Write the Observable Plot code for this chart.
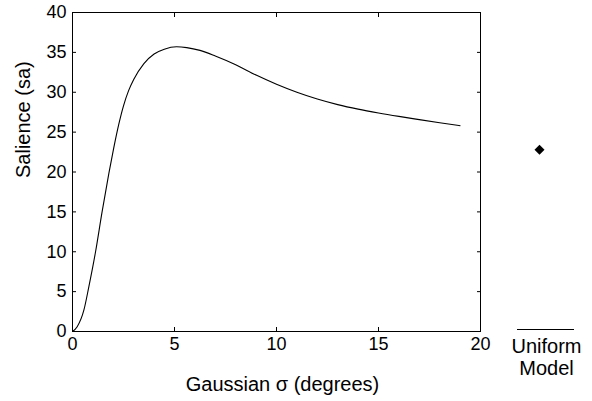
<!DOCTYPE html>
<html>
<head>
<meta charset="utf-8">
<script src="https://cdn.jsdelivr.net/npm/d3@7"></script>
<script src="https://cdn.jsdelivr.net/npm/@observablehq/plot@0.6"></script>
<style>
  html, body { margin: 0; padding: 0; background: white; }
  #wrap { position: relative; width: 592px; height: 401px; }
  #wrap svg { position: absolute; left: 0; top: 0; }
</style>
</head>
<body>
<div id="wrap"></div>
<script>
// Data
const sigma = [0, 0.23, 0.56, 0.8, 1.13, 1.45, 1.78, 2.02, 2.27, 2.5, 2.75, 3.0, 3.5, 4.0, 4.5, 5.1, 5.6, 6.25, 7.0, 8.0, 9.0, 10.0, 11.0, 12.0, 13.0, 14.0, 15.0, 16.0, 17.0, 18.0, 19.0];
const salience = [0, 0.6, 2.7, 5.6, 10, 15, 19.8, 23.0, 26.0, 28.3, 30.2, 31.6, 33.6, 34.8, 35.4, 35.7, 35.6, 35.25, 34.55, 33.45, 32.15, 31.0, 30.0, 29.15, 28.45, 27.88, 27.4, 26.97, 26.57, 26.18, 25.8];
const uniformLabel = ["Uniform\nModel"];
const uniformValue = [22.8];
const xTicks = [0, 5, 10, 15, 20];
const yTicks = [0, 5, 10, 15, 20, 25, 30, 35, 40];
const xLabel = "Gaussian σ (degrees)";
const yLabel = "Salience (sa)";

const curve = sigma.map((s, i) => ({sigma: s, salience: salience[i]}));
const font = "'Liberation Sans', Arial, Helvetica, sans-serif";

const main = Plot.plot({
  width: 592,
  height: 401,
  marginLeft: 72,
  marginRight: 112,
  marginTop: 12,
  marginBottom: 70,
  style: {fontFamily: font, fontSize: "18px", color: "black", background: "transparent"},
  x: {domain: [0, 20]},
  y: {domain: [0, 40]},
  marks: [
    Plot.frame({stroke: "black", strokeWidth: 1}),
    Plot.axisX({anchor: "bottom", ticks: xTicks, tickSize: -4, tickPadding: 10, label: null, fontSize: 18, tickFormat: d => String(d)}),
    Plot.axisX({anchor: "top", ticks: xTicks, tickSize: -4, label: null, tickFormat: () => ""}),
    Plot.axisY({anchor: "left", ticks: yTicks, tickSize: -4, tickPadding: 10, label: null, fontSize: 18, tickFormat: d => String(d)}),
    Plot.axisY({anchor: "right", ticks: yTicks, tickSize: -4, label: null, tickFormat: () => ""}),
    Plot.line(curve, {x: "sigma", y: "salience", curve: "monotone-x", stroke: "black", strokeWidth: 1.1}),
    Plot.text([xLabel], {frameAnchor: "bottom", text: d => d, dx: 6, dy: 59, lineAnchor: "bottom", fontSize: 20}),
    Plot.text([yLabel], {frameAnchor: "left", text: d => d, rotate: -90, dx: -49, dy: 6, lineAnchor: "middle", fontSize: 20})
  ]
});

const side = Plot.plot({
  width: 592,
  height: 401,
  marginLeft: 517,
  marginRight: 18,
  marginTop: 12,
  marginBottom: 70,
  style: {fontFamily: font, fontSize: "20px", color: "black", background: "transparent"},
  x: {type: "point", domain: uniformLabel},
  y: {domain: [0, 40], axis: null},
  marks: [
    Plot.ruleY([0], {stroke: "black", strokeWidth: 1, dy: -2}),
    Plot.axisX({anchor: "bottom", tickSize: 0, tickPadding: 6, label: null, fontSize: 20, lineHeight: 1.1}),
    Plot.dot(uniformValue, {x: () => uniformLabel[0], y: d => d, symbol: "diamond2", r: 4.5, fill: "black", stroke: "none", dx: -7})
  ]
});

document.getElementById("wrap").append(main, side);
</script>
</body>
</html>
